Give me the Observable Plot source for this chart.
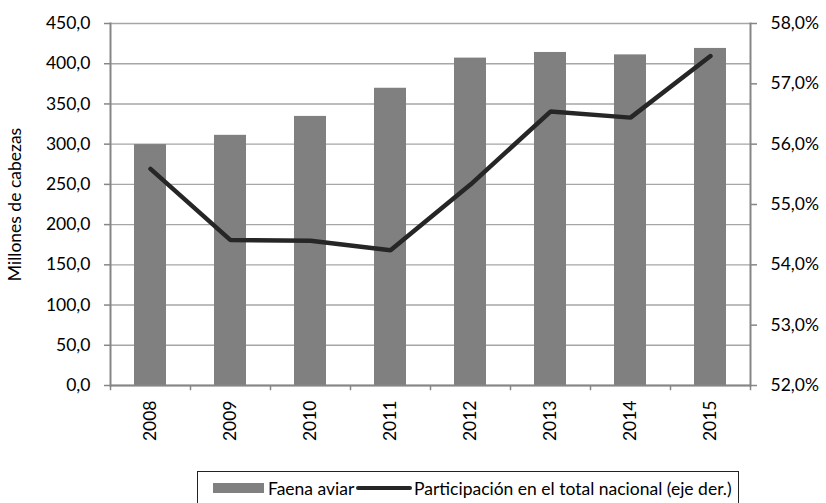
<!DOCTYPE html>
<html>
<head>
<meta charset="utf-8">
<script src="https://cdn.jsdelivr.net/npm/d3@7"></script>
<script src="https://cdn.jsdelivr.net/npm/@observablehq/plot@0.6"></script>
<style>
  body { margin: 0; background: #fff; font-family: Lato, "Open Sans", sans-serif; }
  #wrap { position: relative; width: 826px; height: 503px; overflow: hidden; }
  #legend { position: absolute; left: 197px; top: 471px; width: 542px; height: 34px; border: 1.5px solid #222; box-sizing: border-box; font-size: 17.5px; color: #000; }
  .item { position: absolute; top: 5px; display: flex; align-items: center; height: 22px; white-space: nowrap; }
  .sw-bar { width: 51px; height: 10px; background: #808080; margin-right: 4px; }
  .sw-line { width: 56px; height: 4.5px; background: #262626; border-radius: 3px; margin-right: 2px; }
</style>
</head>
<body>
<div id="wrap">
  <div id="chart"></div>
  <div id="legend">
    <div class="item" style="left:15px"><div class="sw-bar"></div><span id="l1"></span></div>
    <div class="item" style="left:158px"><div class="sw-line"></div><span id="l2"></span></div>
  </div>
</div>
<script>
const years = ["2008", "2009", "2010", "2011", "2012", "2013", "2014", "2015"];
const faena = [299.5, 311, 334.5, 369.5, 407, 414, 411, 419];
const participacion = [55.59, 54.41, 54.40, 54.24, 55.33, 56.54, 56.44, 57.46];
const leftTicks = [0, 50, 100, 150, 200, 250, 300, 350, 400, 450];
const rightTicks = [52, 53, 54, 55, 56, 57, 58];
const seriesNames = ["Faena aviar", "Participación en el total nacional (eje der.)"];
const yTitle = "Millones de cabezas";

// map right-axis percentages onto the left scale domain [0, 450]
const pMin = 52, pMax = 58, yMax = 450;
const toLeft = p => (p - pMin) / (pMax - pMin) * yMax;
const fromLeft = v => v / yMax * (pMax - pMin) + pMin;
const fmt = v => v.toFixed(1).replace(".", ",");

const data = years.map((year, i) => ({year, faena: faena[i], pct: participacion[i]}));

document.getElementById("l1").textContent = seriesNames[0];
document.getElementById("l2").textContent = seriesNames[1];

const grey = "#868686";
const fs = 17.5;
const chart = Plot.plot({
  width: 826,
  height: 460,
  marginLeft: 110,
  marginRight: 76,
  marginTop: 23,
  marginBottom: 75,
  style: {fontFamily: "Lato, 'Open Sans', sans-serif", fontSize: fs + "px", color: "#000", background: "#fff"},
  x: {type: "band", domain: years, paddingInner: 0.6, paddingOuter: 0.3},
  y: {domain: [0, yMax]},
  marks: [
    Plot.gridY(leftTicks, {stroke: "#a6a6a6", strokeOpacity: 1, strokeWidth: 1.4}),
    Plot.barY(data, {x: "year", y: "faena", fill: "#808080"}),
    Plot.lineY(data, {x: "year", y: d => toLeft(d.pct), stroke: "#262626", strokeWidth: 4.5, strokeLinejoin: "miter", strokeLinecap: "round"}),
    Plot.ruleY([0], {stroke: grey, strokeWidth: 2}),
    Plot.frame({anchor: "left", stroke: grey, strokeWidth: 2}),
    Plot.frame({anchor: "right", stroke: grey, strokeWidth: 2}),
    Plot.axisY(leftTicks, {anchor: "left", tickSize: 6, tickPadding: 14, stroke: grey, strokeWidth: 1.5, fill: "#000", fontSize: fs,
      tickFormat: fmt, label: yTitle, labelAnchor: "center", labelArrow: "none", labelOffset: 102}),
    Plot.axisY(rightTicks.map(toLeft), {anchor: "right", tickSize: 6, tickPadding: 14, stroke: grey, strokeWidth: 1.5, fill: "#000", fontSize: fs,
      tickFormat: v => fmt(fromLeft(v)) + "%", label: null}),
    Plot.axisX({tickSize: 0, tickRotate: -90, tickPadding: 15, label: null, fill: "#000", fontSize: fs}),
    Plot.ruleX(years, {x: d => d, dx: -40, y1: 0, y2: -6.5, stroke: grey, strokeWidth: 1.5}),
    Plot.ruleX(years.slice(-1), {x: d => d, dx: 40, y1: 0, y2: -6.5, stroke: grey, strokeWidth: 1.5})
  ]
});
document.getElementById("chart").appendChild(chart);
</script>
</body>
</html>
